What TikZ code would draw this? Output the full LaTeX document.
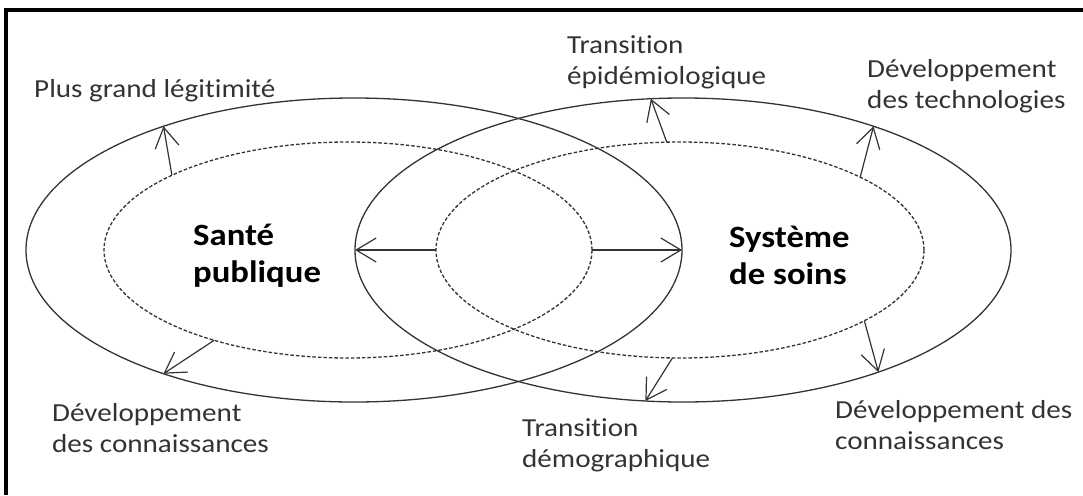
\documentclass[tikz,border=0pt]{standalone}
\usepackage{fontspec}
\setmainfont{Carlito}[FakeStretch=1.12,Ligatures=NoCommon]
\usetikzlibrary{shapes.geometric,arrows.meta}
\begin{document}
\begin{tikzpicture}[x=1pt,y=-1pt,
  ring/.style={ellipse, draw=black!80, line width=1.3pt, inner sep=0pt, outer sep=0pt},
  outerring/.style={ring, minimum width=656pt, minimum height=304pt},
  innerring/.style={ring, dash pattern=on 3.5pt off 2pt, minimum width=488pt, minimum height=216pt},
  lbl/.style={align=left, inner sep=0pt, text=black!80, font=\fontsize{26}{31}\selectfont, anchor=base west},
  ttl/.style={align=left, inner sep=0pt, text=black, font=\fontsize{31}{37}\selectfont\bfseries, anchor=base west},
  arr/.style={draw=black!80, line width=1.2pt, -{Straight Barb[length=20pt,width=24pt]}}
]
\useasboundingbox (0,0) rectangle (1083,495);
\draw[line width=4.5pt, line join=miter] (6,495) -- (6,10) -- (1083,10);

\node[outerring] (LO) at (354,250) {};
\node[outerring] (RO) at (683,250) {};
\node[innerring] (LI) at (348,250) {};
\node[innerring] (RI) at (680,250) {};

\draw[arr] (LI.157) -- (LO.147.3);
\draw[arr] (LI.214.9) -- (LO.213.8);
\draw[arr] (RI.180) -- (RO.180);
\draw[arr] (LI.0) -- (LO.0);
\draw[arr] (RI.97.6) -- (RO.102.9);
\draw[arr] (RI.22.2) -- (RO.33);
\draw[arr] (RI.266.4) -- (RO.256.7);
\draw[arr] (RI.339.2) -- (RO.328);

\node[lbl] (plus) at (34,97) {Plus grand légitimité};
\node[lbl] (tepi) at (567,84) {Transition\\épidémiologique};
\node[lbl] (dtech) at (867,108) {Développement\\des technologies};
\node[lbl] (dconl) at (52,452) {Développement\\des connaissances};
\node[lbl] (tdemo) at (522,467) {Transition\\démographique};
\node[lbl] (dconr) at (835,449) {Développement des\\connaissances};
\node[ttl] (sp) at (193,282) {Santé\\publique};
\node[ttl] (ss) at (729,284) {Système\\de soins};
\end{tikzpicture}
\end{document}
